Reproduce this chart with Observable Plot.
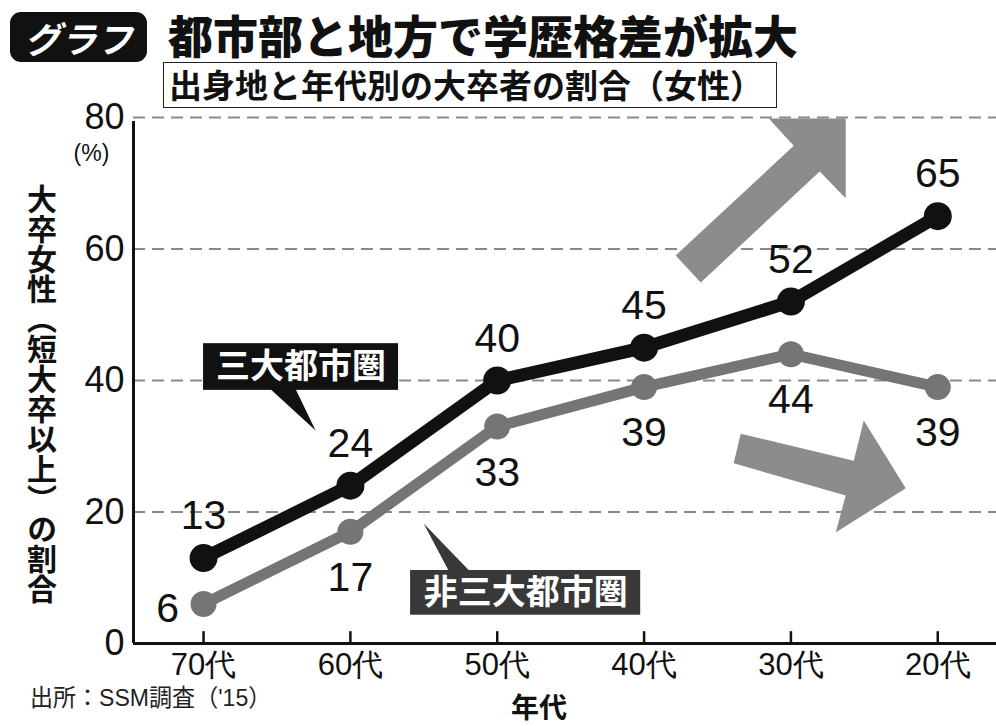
<!DOCTYPE html>
<html><head><meta charset="utf-8">
<script src="https://cdn.jsdelivr.net/npm/d3@7"></script>
<script src="https://cdn.jsdelivr.net/npm/@observablehq/plot@0.6"></script>
<style>
html,body{margin:0;padding:0;background:#fff;}
#wrap{position:relative;width:996px;height:726px;overflow:hidden;background:#fff;}
#chart{position:absolute;left:0;top:0;}
.jp{font-family:"Noto Sans CJK JP","Noto Sans CJK SC",sans-serif;}
#badge{position:absolute;left:10px;top:12px;width:137px;height:50px;background:#111;border-radius:11px;color:#fff;font-size:36px;font-weight:700;font-style:italic;display:flex;align-items:center;justify-content:center;}
#title{position:absolute;left:168px;top:12px;font-size:45px;font-weight:900;line-height:46px;color:#111;white-space:nowrap;}
#sub{position:absolute;left:163px;top:62px;width:614px;height:46px;border:1.5px solid #222;box-sizing:border-box;font-size:33px;font-weight:700;line-height:42px;padding-left:5px;color:#111;white-space:nowrap;background:#fff;}
#src{position:absolute;left:30px;top:684px;font-size:24px;line-height:28px;color:#222;font-family:"Liberation Sans","Noto Sans CJK JP",sans-serif;white-space:nowrap;transform:scaleX(0.96);transform-origin:left top;}
#xlab{position:absolute;left:511px;top:690px;font-size:28px;line-height:32px;font-weight:700;color:#111;}
#ytitle{position:absolute;left:26px;top:184px;writing-mode:vertical-rl;font-size:30px;line-height:32px;font-weight:700;color:#111;white-space:nowrap;}
</style>
</head><body>
<div id="wrap">
  <div id="chart"></div>
  <div id="badge" class="jp">グラフ</div>
  <div id="title" class="jp">都市部と地方で学歴格差が拡大</div>
  <div id="sub" class="jp">出身地と年代別の大卒者の割合（女性）</div>
  <div id="ytitle" class="jp"></div>
  <div id="src">出所：SSM調査（'15）</div>
  <div id="xlab" class="jp">年代</div>
</div>
<script>
// ---- data ----
const ages = ["70代", "60代", "50代", "40代", "30代", "20代"];
const metro = [13, 24, 40, 45, 52, 65];        // 三大都市圏
const nonMetro = [6, 17, 33, 39, 44, 39];      // 非三大都市圏
const yTicks = [0, 20, 40, 60, 80];
const gridValues = [20, 40, 60, 80];
const metroName = "三大都市圏";
const nonMetroName = "非三大都市圏";
const yTitle = "大卒女性（短大卒以上）の割合";

// ---- annotation geometry (data units: x = age index, y = %) ----
const arrowUp = [[3.215,59.0],[4.019,75.7],[3.849,79.85],[4.373,79.85],[4.373,67.7],[4.196,71.8],[3.386,54.9]];
const arrowRight = [[3.658,31.9],[4.428,27.8],[4.496,33.9],[4.782,23.6],[4.305,16.9],[4.373,22.5],[3.610,27.4]];
const metroBox = {x1: 0, x2: 1.328, y1: 38.5, y2: 45.6};
const metroPointer = [[0.44,39.0],[0.62,39.0],[0.763,32.4]];
const nonMetroBox = {x1: 1.41, x2: 2.977, y1: 4.3, y2: 11.1};
const nonMetroPointer = [[1.68,10.6],[1.83,10.6],[1.499,18.25]];

document.getElementById("ytitle").textContent = yTitle;

const idx = d3.range(ages.length);
const metroData = idx.map(i => ({i, v: metro[i]}));
const nonData = idx.map(i => ({i, v: nonMetro[i]}));
const arrows = [
  ...arrowUp.map(([x, y]) => ({id: "up", x, y})),
  ...arrowRight.map(([x, y]) => ({id: "right", x, y}))
];
const pointers = [
  ...metroPointer.map(([x, y]) => ({id: "m", x, y})),
  ...nonMetroPointer.map(([x, y]) => ({id: "n", x, y}))
];

const num = "Liberation Sans, Arial, sans-serif";
const jp = "Noto Sans CJK JP, Noto Sans CJK SC, sans-serif";
const BLACK = "#111";
const GRAY = "#757575";
const ARROW = "#8c8c8c";

const chart = Plot.plot({
  width: 996,
  height: 726,
  marginTop: 117,
  marginBottom: 83,
  marginLeft: 133,
  marginRight: 0,
  x: {type: "linear", domain: [-0.477, 5.40]},
  y: {domain: [0, 80]},
  style: {background: "transparent", color: "#111"},
  marks: [
    Plot.ruleY(gridValues, {stroke: "#8a8a8a", strokeWidth: 2, strokeDasharray: "12,7"}),
    Plot.line(arrows, {x: "x", y: "y", z: "id", fill: ARROW, stroke: "none"}),
    Plot.ruleX([-0.477], {y1: 0, y2: 79.4, stroke: BLACK, strokeWidth: 3}),
    Plot.ruleY([0], {stroke: BLACK, strokeWidth: 3}),
    Plot.ruleX(idx, {y1: 0, y2: 1.8, stroke: BLACK, strokeWidth: 2.5}),
    Plot.axisY({ticks: yTicks, tickSize: 0, tickPadding: 9, fontSize: 36, fontFamily: num, label: null}),
    Plot.axisX({ticks: idx, tickFormat: i => ages[i], tickSize: 0, tickPadding: 9, fontSize: 31, fontFamily: num, label: null}),
    Plot.text(["(%)"], {frameAnchor: "top-left", dx: -42, dy: 27, textAnchor: "middle", text: d => d, fontSize: 23, fontFamily: num}),
    // series
    Plot.line(nonData, {x: "i", y: "v", stroke: GRAY, strokeWidth: 11}),
    Plot.dot(nonData, {x: "i", y: "v", r: 13, fill: GRAY}),
    Plot.line(metroData, {x: "i", y: "v", stroke: BLACK, strokeWidth: 13}),
    Plot.dot(metroData, {x: "i", y: "v", r: 14, fill: BLACK}),
    // value labels
    Plot.text(metroData, {x: "i", y: "v", text: "v", dy: -42, fontSize: 41, fontFamily: num, fill: BLACK}),
    Plot.text(nonData.slice(1), {x: "i", y: "v", text: "v", dy: 46, fontSize: 41, fontFamily: num, fill: BLACK}),
    Plot.text(nonData.slice(0, 1), {x: "i", y: "v", text: "v", dx: -36, dy: 5, fontSize: 41, fontFamily: num, fill: BLACK}),
    // callouts
    Plot.line(pointers, {x: "x", y: "y", z: "id", fill: d => d.id === "m" ? BLACK : "#383838", stroke: "none"}),
    Plot.rect([metroBox], {x1: "x1", x2: "x2", y1: "y1", y2: "y2", fill: BLACK}),
    Plot.rect([nonMetroBox], {x1: "x1", x2: "x2", y1: "y1", y2: "y2", fill: "#383838"}),
    Plot.text([metroName], {x: (metroBox.x1 + metroBox.x2) / 2, y: (metroBox.y1 + metroBox.y2) / 2, text: d => d, fill: "#fff", fontSize: 34, fontWeight: "bold", fontFamily: jp}),
    Plot.text([nonMetroName], {x: (nonMetroBox.x1 + nonMetroBox.x2) / 2, y: (nonMetroBox.y1 + nonMetroBox.y2) / 2, text: d => d, fill: "#fff", fontSize: 34, fontWeight: "bold", fontFamily: jp})
  ]
});
document.getElementById("chart").append(chart);
</script>
</body></html>
